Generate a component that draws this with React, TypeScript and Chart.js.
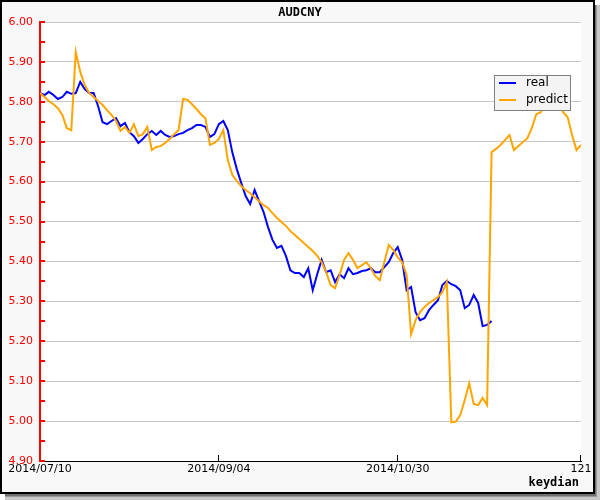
import React, { useEffect, useRef } from "react";
import { Chart, registerables } from "chart.js";

Chart.register(...registerables);

const TITLE = "AUDCNY";
const FOOTER = "keydian";
const seriesNames = ["real", "predict"];
const seriesColors = ["#0000ff", "#ffa500"];

const xMin = 0;
const xMax = 121;
const xTickValues = [0, 40, 80, 121];
const xTickLabels = ["2014/07/10", "2014/09/04", "2014/10/30", "121"];

const yMin = 4.9;
const yMax = 6.0;
const yMajorStep = 0.1;
const yMinorStep = 0.05;

const realValues = [
  5.822, 5.817, 5.825, 5.817, 5.807, 5.812, 5.825, 5.82, 5.822, 5.85,
  5.832, 5.822, 5.822, 5.789, 5.749, 5.744, 5.752, 5.759, 5.739, 5.747,
  5.724, 5.714, 5.697, 5.707, 5.719, 5.727, 5.717, 5.727, 5.717, 5.712,
  5.714, 5.719, 5.722, 5.729, 5.734, 5.742, 5.742, 5.737, 5.712, 5.719,
  5.744, 5.752, 5.729, 5.674, 5.632, 5.597, 5.564, 5.544, 5.579, 5.551,
  5.524, 5.486, 5.454, 5.434, 5.439, 5.414, 5.378, 5.371, 5.371, 5.361,
  5.383, 5.328, 5.368, 5.404, 5.373, 5.378, 5.348, 5.368, 5.358, 5.383,
  5.368, 5.371, 5.376, 5.378, 5.383, 5.373, 5.373, 5.386, 5.398, 5.421,
  5.436, 5.404, 5.328, 5.336, 5.273, 5.253, 5.258, 5.278, 5.291, 5.303,
  5.341, 5.351, 5.343, 5.338, 5.328, 5.283, 5.291, 5.316, 5.296, 5.238,
  5.241, 5.251,
];

const predictValues = [
  5.822, 5.812, 5.802, 5.794, 5.784, 5.767, 5.734, 5.729, 5.925, 5.875,
  5.842, 5.822, 5.812, 5.802, 5.792, 5.779, 5.767, 5.752, 5.727, 5.737,
  5.722, 5.744, 5.714, 5.719, 5.737, 5.679, 5.687, 5.689, 5.697, 5.707,
  5.719, 5.729, 5.807, 5.805, 5.794, 5.782, 5.769, 5.759, 5.692, 5.697,
  5.707, 5.729, 5.654, 5.617, 5.602, 5.589, 5.579, 5.571, 5.561, 5.551,
  5.541, 5.534, 5.521, 5.509, 5.499, 5.489, 5.476, 5.466, 5.456, 5.446,
  5.436, 5.426, 5.414, 5.398, 5.373, 5.341, 5.333, 5.366, 5.404, 5.421,
  5.404, 5.383, 5.391, 5.398, 5.383, 5.363, 5.353, 5.398, 5.441, 5.429,
  5.411, 5.398, 5.366, 5.218, 5.253, 5.273, 5.286, 5.296, 5.303, 5.311,
  5.323, 5.348, 4.997, 4.999, 5.015, 5.053, 5.095, 5.043, 5.04, 5.058,
  5.04, 5.674, 5.682, 5.692, 5.704, 5.717, 5.679, 5.689, 5.699, 5.709,
  5.734, 5.769, 5.774, 5.817, 5.83, 5.825, 5.805, 5.774, 5.762, 5.717,
  5.679, 5.692,
];

const seriesValues = [realValues, predictValues];

const decorPlugin = {
  id: "decor",
  beforeDraw(chart: any) {
    const { ctx, width, height, chartArea: ca } = chart;
    ctx.save();
    ctx.fillStyle = "#ffffff";
    ctx.fillRect(0, 0, width, height);
    // drop shadow
    ctx.fillStyle = "#c8c8c8";
    ctx.fillRect(5, 5, width - 5, height - 5);
    ctx.fillStyle = "#9a9a9a";
    ctx.fillRect(5, 5, width - 8, height - 8);
    ctx.fillStyle = "#707070";
    ctx.fillRect(5, 5, width - 9, height - 9);
    // frame
    ctx.fillStyle = "#f8f8f8";
    ctx.fillRect(0, 0, 595, 494);
    ctx.strokeStyle = "#000000";
    ctx.lineWidth = 2;
    ctx.strokeRect(1, 1, 593, 492);
    // plot background
    ctx.fillStyle = "#ffffff";
    ctx.fillRect(ca.left, ca.top, ca.right - ca.left, ca.bottom - ca.top);
    ctx.restore();
  },
  afterDraw(chart: any) {
    const { ctx, chartArea: ca, scales } = chart;
    const xs = scales.x;
    const ys = scales.y;
    ctx.save();
    // y minor ticks (red, inward)
    ctx.strokeStyle = "#ff0000";
    ctx.lineWidth = 2;
    const n = Math.round((yMax - yMin) / yMinorStep);
    for (let i = 0; i <= n; i++) {
      const v = yMin + i * yMinorStep;
      const py = Math.round(ys.getPixelForValue(v));
      ctx.beginPath();
      ctx.moveTo(ca.left, py);
      ctx.lineTo(ca.left + 5, py);
      ctx.stroke();
    }
    // x ticks (black, upward)
    ctx.strokeStyle = "#000000";
    ctx.lineWidth = 1;
    xTickValues.forEach((v) => {
      if (v === xMin) return;
      const px = Math.round(xs.getPixelForValue(v)) - 0.5;
      ctx.beginPath();
      ctx.moveTo(px, ca.bottom);
      ctx.lineTo(px, ca.bottom - 6);
      ctx.stroke();
    });
    // legend
    const lx = 494.5, ly = 75.5, lw = 76, lh = 35;
    ctx.fillStyle = "#f4f4f4";
    ctx.fillRect(lx, ly, lw, lh);
    ctx.strokeStyle = "#808080";
    ctx.lineWidth = 1;
    ctx.strokeRect(lx, ly, lw, lh);
    ctx.font = "12px 'DejaVu Sans'";
    ctx.textBaseline = "middle";
    ctx.textAlign = "left";
    seriesNames.forEach((name, i) => {
      const yy = 83 + i * 17;
      ctx.strokeStyle = seriesColors[i];
      ctx.lineWidth = 2;
      ctx.beginPath();
      ctx.moveTo(499, yy);
      ctx.lineTo(516, yy);
      ctx.stroke();
      ctx.fillStyle = "#000000";
      ctx.fillText(name, 526, yy);
    });
    // title
    ctx.font = "bold 12px 'DejaVu Sans Mono'";
    ctx.textAlign = "center";
    ctx.fillStyle = "#000000";
    ctx.fillText(TITLE, 300, 13);
    // footer
    ctx.textAlign = "right";
    ctx.fillText(FOOTER, 579, 483);
    ctx.restore();
  },
};

export default function App() {
  const ref = useRef<HTMLCanvasElement | null>(null);
  useEffect(() => {
    if (!ref.current) return;
    const chart = new Chart(ref.current, {
      type: "line",
      data: {
        datasets: seriesValues.map((vals, si) => ({
          label: seriesNames[si],
          data: vals.map((v, i) => ({ x: i, y: v })),
          borderColor: seriesColors[si],
          backgroundColor: seriesColors[si],
          borderWidth: 2,
          pointRadius: 0,
          tension: 0,
          fill: false,
          order: si === 0 ? 1 : 0,
        })),
      },
      options: {
        animation: false,
        responsive: false,
        devicePixelRatio: 1,
        layout: { padding: { top: 22, right: 19, left: 0, bottom: 0 } },
        plugins: {
          legend: { display: false },
          title: { display: false },
          tooltip: { enabled: false },
        },
        scales: {
          x: {
            type: "linear",
            min: xMin,
            max: xMax,
            grid: { display: false, drawTicks: false },
            border: { display: true, color: "#000000", width: 1 },
            afterBuildTicks: (s: any) => {
              s.ticks = xTickValues.map((v) => ({ value: v }));
            },
            afterFit: (s: any) => {
              s.height = 39;
              s.paddingLeft = 0;
              s.paddingRight = 0;
            },
            ticks: {
              autoSkip: false,
              maxRotation: 0,
              padding: 2,
              color: "#000000",
              font: { family: "'DejaVu Sans'", size: 11 },
              callback: (v: any) => {
                const i = xTickValues.indexOf(Number(v));
                return i >= 0 ? xTickLabels[i] : "";
              },
            },
          },
          y: {
            type: "linear",
            min: yMin,
            max: yMax,
            grid: { color: "#c8c8c8", lineWidth: 1, drawTicks: false },
            border: { display: true, color: "#ff0000", width: 2 },
            afterFit: (s: any) => {
              s.width = 40;
              s.paddingTop = 0;
              s.paddingBottom = 0;
            },
            ticks: {
              stepSize: yMajorStep,
              padding: 7,
              color: "#ff0000",
              font: { family: "'DejaVu Sans'", size: 11 },
              callback: (v: any) => Number(v).toFixed(2),
            },
          },
        },
      },
      plugins: [decorPlugin],
    } as any);
    return () => chart.destroy();
  }, []);
  return (
    <div style={{ position: "fixed", left: 0, top: 0, width: 600, height: 500 }}>
      <canvas ref={ref} width={600} height={500} style={{ display: "block", width: 600, height: 500 }} />
    </div>
  );
}
